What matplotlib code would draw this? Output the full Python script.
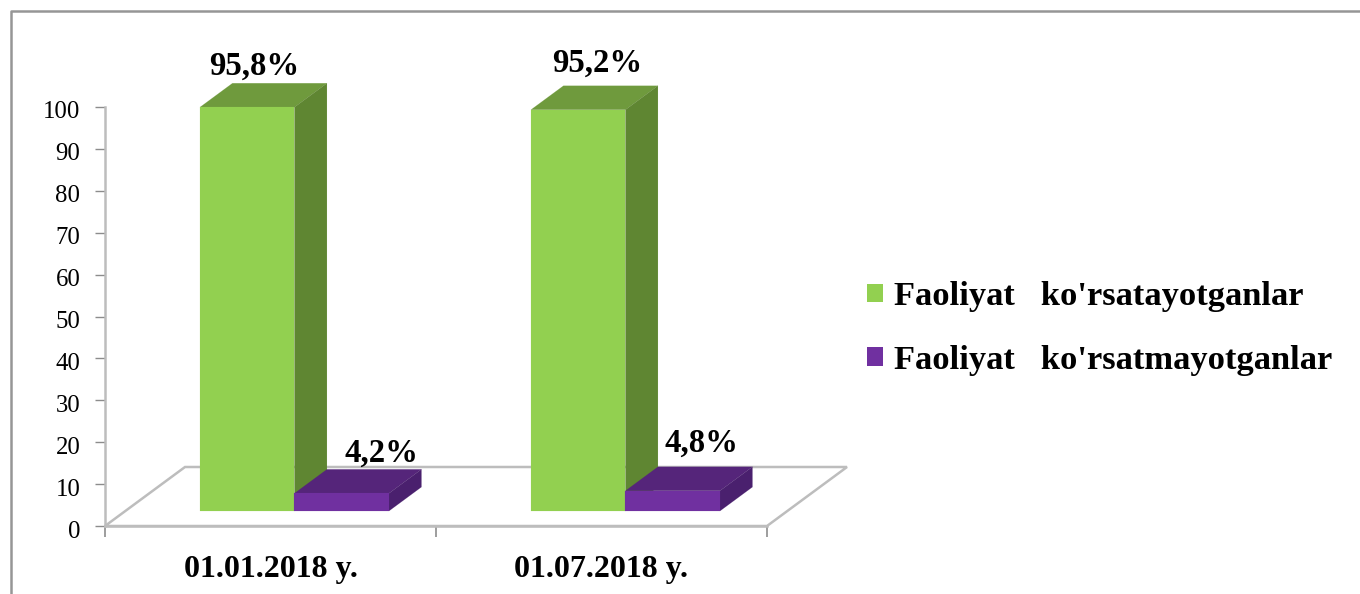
import matplotlib
matplotlib.use("Agg")
import matplotlib.pyplot as plt
from matplotlib.patches import Patch, Polygon
from matplotlib.transforms import ScaledTranslation

# Data
categories = ["01.01.2018 y.", "01.07.2018 y."]
active = [95.8, 95.2]
inactive = [4.2, 4.8]
active_labels = ["95,8%", "95,2%"]
inactive_labels = ["4,2%", "4,8%"]
series_names = ["Faoliyat   ko'rsatayotganlar", "Faoliyat   ko'rsatmayotganlar"]
y_ticks = list(range(0, 101, 10))

W, H = 1360, 594
GREEN = ("#92D050", "#6F9A3D", "#5F8632")
PURPLE = ("#7030A0", "#55257A", "#4A206E")
GRID = "#BDBDBD"

plt.rcParams["font.family"] = ["Liberation Serif", "DejaVu Serif"]

fig = plt.figure(figsize=(W / 100, H / 100), dpi=100)
# axis runs 105..767 px across and 107..526 px down
ax = fig.add_axes([105 / W, 1 - 526 / H, 662 / W, 419 / H])
ax.set_xlim(0, 2)
ax.set_ylim(0, 100)

# oblique projection: depth 0..1 shifts a point right and up over the floor
depth_x = 80 / 331
depth_y = 59 / 4.19


def project(x, v, d):
    return (x + d * depth_x, v + d * depth_y)


def box(x0, x1, v, colors, d0=0.254, d1=0.66):
    v = v * 1.006
    face = [project(x0, 0, d0), project(x1, 0, d0), project(x1, v, d0), project(x0, v, d0)]
    top = [project(x0, v, d0), project(x1, v, d0), project(x1, v, d1), project(x0, v, d1)]
    side = [project(x1, 0, d0), project(x1, 0, d1), project(x1, v, d1), project(x1, v, d0)]
    for pts, c in ((top, colors[1]), (side, colors[2]), (face, colors[0])):
        ax.add_patch(Polygon(pts, closed=True, fc=c, ec=c, lw=0.1, clip_on=False, zorder=3))


# floor
floor = [project(0, 0, 0), project(0, 0, 1), project(2, 0, 1), project(2, 0, 0)]
ax.add_patch(Polygon(floor, closed=True, fc="white", ec=GRID, lw=1.8, clip_on=False, zorder=1))

bar_w = 0.2855
# the value labels sit a little unevenly, offsets in pixels from the bar's front top
active_off = [(7.5, 41), (19, 46)]
inactive_off = [(40, 40), (29, 48)]
for i in range(len(categories)):
    mid = i + 0.511
    box(mid - bar_w, mid, active[i], GREEN)
    box(mid, mid + bar_w, inactive[i], PURPLE)
    for x, v, txt, off in ((mid - bar_w / 2, active[i], active_labels[i], active_off[i]),
                           (mid + bar_w / 2, inactive[i], inactive_labels[i], inactive_off[i])):
        ax.annotate(txt, project(x, v * 1.006, 0.254), xytext=(off[0] * 0.72, off[1] * 0.72),
                    textcoords="offset points", ha="center", va="center",
                    fontsize=23.6, fontweight="bold", zorder=5, annotation_clip=False)

for s in ("top", "right"):
    ax.spines[s].set_visible(False)
for s in ("left", "bottom"):
    ax.spines[s].set_color(GRID)
    ax.spines[s].set_linewidth(1.8)
    ax.spines[s].set_zorder(2)
ax.patch.set_alpha(0)

ax.set_yticks(y_ticks)
ax.tick_params(axis="y", labelsize=17.8, length=7, width=1, color="#8C8C8C", pad=10.8)
down = ScaledTranslation(0, -3 / 100, fig.dpi_scale_trans)
for lab in ax.get_yticklabels():
    lab.set_transform(lab.get_transform() + down)
ax.set_xticks([0, 1, 2])
ax.set_xticklabels([])
ax.tick_params(axis="x", length=8, width=1.2, color="#8C8C8C")
ax.set_xticks([0.5, 1.5], minor=True)
ax.set_xticklabels(categories, minor=True, fontsize=23, fontweight="bold")
ax.tick_params(axis="x", which="minor", length=0, pad=21)

handles = [Patch(fc=GREEN[0], ec="none"), Patch(fc=PURPLE[0], ec="none")]
fig.legend(handles, series_names, loc="center left", bbox_to_anchor=(867 / W, 1 - 328.5 / H),
           frameon=False, borderpad=0, borderaxespad=0, handlelength=0.465, handleheight=0.465,
           handletextpad=0.32, labelspacing=0.94, prop={"size": 24.8, "weight": "bold"})

# outer frame, open on the right and bottom
fig.add_artist(plt.Line2D([10.5 / W, 10.5 / W, 1], [0, 1 - 11 / H, 1 - 11 / H], color="#969696", lw=1.8))

fig.savefig("out.png", dpi=100)
